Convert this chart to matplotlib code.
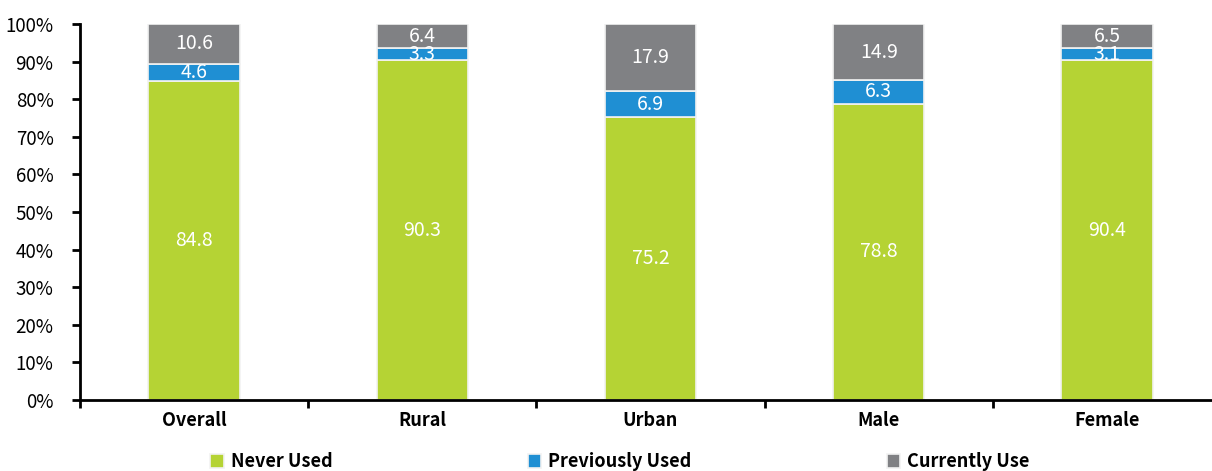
import matplotlib.pyplot as plt
import numpy as np

plt.rcParams['font.family'] = ['Noto Sans CJK SC', 'DejaVu Sans']

categories = ['Overall', 'Rural', 'Urban', 'Male', 'Female']
never_used = [84.8, 90.3, 75.2, 78.8, 90.4]
previously_used = [4.6, 3.3, 6.9, 6.3, 3.1]
currently_use = [10.6, 6.4, 17.9, 14.9, 6.5]

series = [
    ('Never Used', never_used, '#b5d334'),
    ('Previously Used', previously_used, '#1f8fd3'),
    ('Currently Use', currently_use, '#808184'),
]

fig = plt.figure(figsize=(12.12, 4.71), dpi=100)
ax = fig.add_axes([0.066, 0.1507, 0.934, 0.7983])

x = np.arange(len(categories))
bottom = np.zeros(len(categories))
handles = []
for name, vals, color in series:
    vals = np.array(vals)
    bars = ax.bar(x, vals, 0.4, bottom=bottom, color=color,
                  edgecolor='#f2f2f2', linewidth=1.2, label=name)
    handles.append(bars)
    for xi, b, v in zip(x, bottom, vals):
        ax.text(xi, b + v / 2, f"{v:.1f}", ha='center', va='center',
                color='white', fontsize=14, fontweight='medium')
    bottom += vals

ax.set_yticks(np.arange(0, 101, 10))
ax.set_yticklabels([f"{v}%" for v in range(0, 101, 10)], fontsize=13.5)

ax.set_xticks(x)
ax.set_xticklabels(categories, fontsize=13, fontweight='bold')
ax.tick_params(axis='x', length=0, pad=8)
ax.set_xticks(np.arange(-0.5, 4.6, 1), minor=True)
ax.tick_params(axis='x', which='minor', length=6, width=2, direction='out')
ax.tick_params(axis='y', length=6, width=2, direction='out', pad=13)
ax.set_ylim(0, 100)
ax.set_xlim(-0.5, 4.46)

ax.spines['top'].set_visible(False)
ax.spines['right'].set_visible(False)
ax.spines['left'].set_linewidth(2)
ax.spines['bottom'].set_linewidth(2)

fig.legend(handles=handles, loc='lower left', bbox_to_anchor=(0.16, -0.035),
           ncol=3, frameon=False, handlelength=0.75, handleheight=0.75,
           handletextpad=0.4, columnspacing=10.8,
           prop={'size': 13, 'weight': 'bold'})

fig.savefig('out.png', dpi=100)
